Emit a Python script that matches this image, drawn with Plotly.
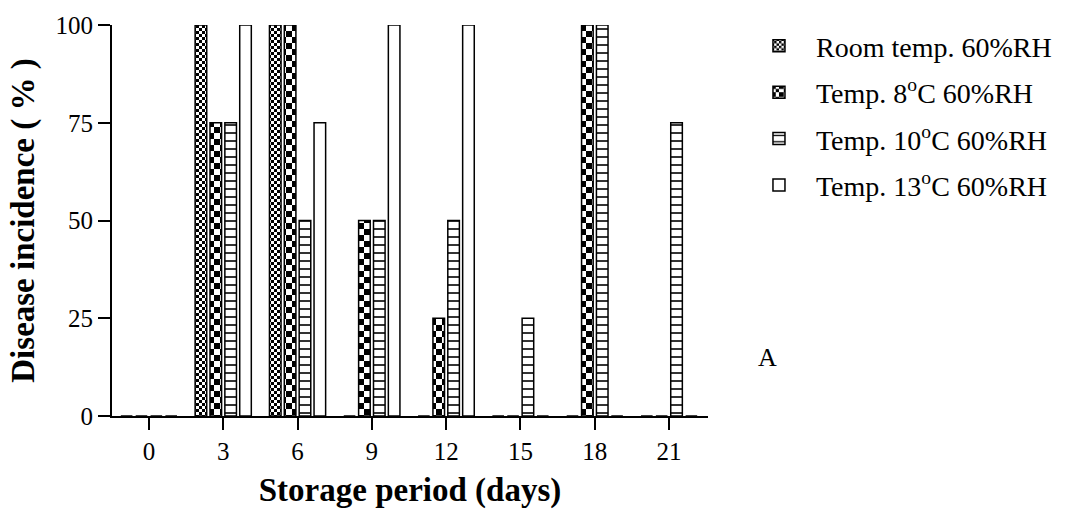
import plotly.graph_objects as go

# ---- data ----
days = [0, 3, 6, 9, 12, 15, 18, 21]
room_temp = [0, 100, 100, 0, 0, 0, 0, 0]
temp_8 = [0, 75, 100, 50, 25, 0, 100, 0]
temp_10 = [0, 75, 50, 50, 50, 25, 100, 75]
temp_13 = [0, 100, 75, 100, 100, 0, 0, 0]
series_names = ["Room temp. 60%RH", "Temp. 8<sup>o</sup>C 60%RH",
                "Temp. 10<sup>o</sup>C 60%RH", "Temp. 13<sup>o</sup>C 60%RH"]
y_ticks = [0, 25, 50, 75, 100]

FONT = "Liberation Serif"


def checker(c):
    return f"M0,0H{c}V{c}H0Z M{c},{c}H{2*c}V{2*c}H{c}Z"


pat_room = dict(path=checker(3), size=6, fgcolor="black", bgcolor="white",
                fillmode="replace", solidity=1)
pat_8 = dict(path=checker(6), size=12, fgcolor="black", bgcolor="white",
             fillmode="replace", solidity=1)
pat_10 = dict(shape="-", size=8, solidity=0.2, fgcolor="black",
              bgcolor="white", fillmode="replace")
pat_13 = dict(shape="", fgcolor="black", bgcolor="white")

fig = go.Figure()
for i, (name, vals, pat) in enumerate(zip(series_names,
                                          [room_temp, temp_8, temp_10, temp_13],
                                          [pat_room, pat_8, pat_10, pat_13])):
    fig.add_trace(go.Bar(
        x=days, y=vals, name=name, legendgroup=f"g{i}",
        marker=dict(color="white", pattern=pat,
                    line=dict(color="black", width=1.5)),
    ))

fig.update_layout(
    barmode="group", bargap=0.2, bargroupgap=0.22,
    width=1069, height=514,
    margin=dict(l=112, r=359, t=20, b=94),
    plot_bgcolor="white", paper_bgcolor="white",
    font=dict(family=FONT, color="black", size=25),
    showlegend=True,
    legend=dict(x=1.057, y=1.01, xanchor="left", yanchor="top",
                font=dict(family=FONT, size=28, color="black"),
                bgcolor="rgba(0,0,0,0)", itemwidth=64, tracegroupgap=7),
    xaxis=dict(
        range=[-1.49, 22.57], tickmode="array", tickvals=days,
        ticktext=[str(d) for d in days],
        showline=True, linecolor="black", linewidth=2,
        ticks="outside", ticklen=12, tickwidth=2, tickcolor="black",
        showgrid=False, zeroline=False,
        tickfont=dict(family=FONT, size=25),
        title=dict(text="<b>Storage period (days)</b>", standoff=14,
                   font=dict(family=FONT, size=33)),
    ),
    yaxis=dict(
        range=[0, 100], tickmode="array", tickvals=y_ticks,
        showline=True, linecolor="black", linewidth=2,
        ticks="outside", ticklen=12, tickwidth=2, tickcolor="black",
        showgrid=False, zeroline=False,
        tickfont=dict(family=FONT, size=25),
        title=dict(text="<b>Disease incidence ( % )</b>", standoff=11,
                   font=dict(family=FONT, size=33)),
    ),
    annotations=[
        dict(text="A", x=1.099, y=0.15, xref="paper", yref="paper",
             xanchor="center", yanchor="middle", showarrow=False,
             font=dict(family=FONT, size=26, color="black")),
    ],
)

fig.write_html("out.html")
